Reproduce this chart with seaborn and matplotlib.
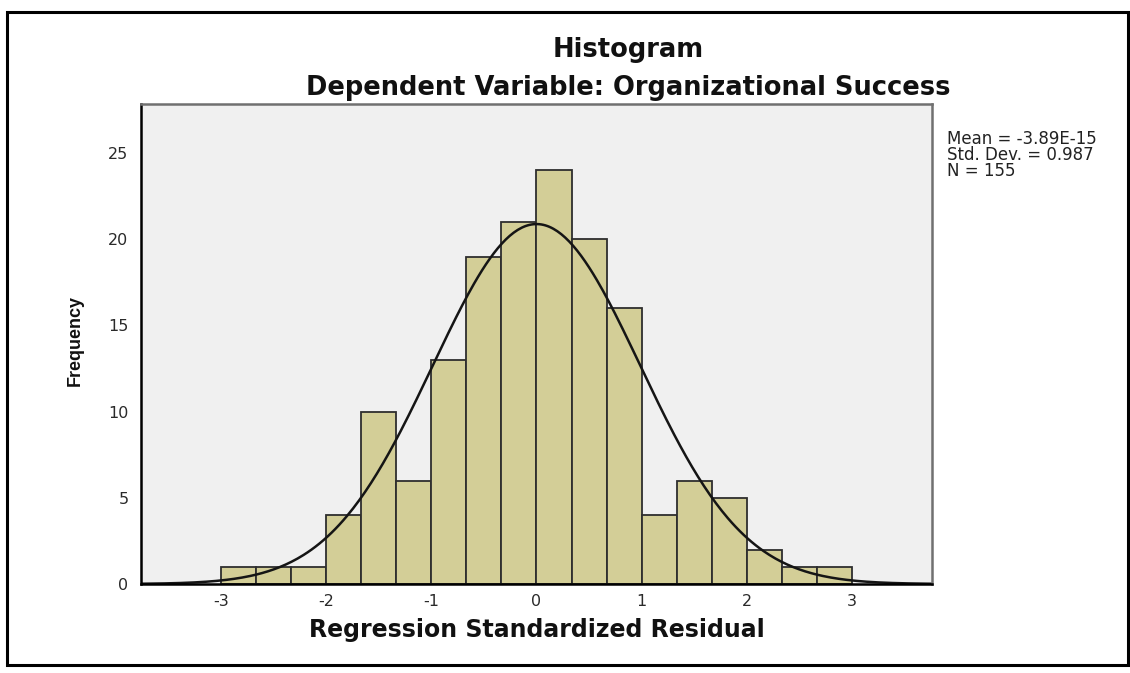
import numpy as np
import pandas as pd
import seaborn as sns
import matplotlib.pyplot as plt
from matplotlib.patches import Rectangle

# bar heights (18 bins of width 1/3 between -3 and 3)
counts = [1, 1, 1, 4, 10, 6, 13, 19, 21, 24, 20, 16, 4, 6, 5, 2, 1, 1]
bin_lo, bin_hi = -3, 3
resid_mean = -3.89e-15
resid_sd = 0.987
n_obs = 155
x_ticks = [-3, -2, -1, 0, 1, 2, 3]
y_ticks = [0, 5, 10, 15, 20, 25]

edges = np.linspace(bin_lo, bin_hi, len(counts) + 1)
centers = (edges[:-1] + edges[1:]) / 2
df = pd.DataFrame({'resid': centers, 'count': counts})

sns.set_style('white')
plt.rcParams['font.family'] = ['DejaVu Sans']
plt.rcParams['axes.unicode_minus'] = False

W, H = 1130, 673
fig = plt.figure(figsize=(W / 100, H / 100), dpi=100)
ax = fig.add_axes([141 / W, 1 - 584 / H, (932 - 141) / W, (584 - 104) / H])
ax.set_facecolor('#f0f0f0')

sns.histplot(data=df, x='resid', weights='count', bins=edges.tolist(), color='#d3ce97',
             alpha=1, edgecolor='#2e2e2e', linewidth=1.3, ax=ax)

# fitted normal curve
bw = edges[1] - edges[0]
xs = np.linspace(-3.76, 3.76, 400)
ys = n_obs * bw / (resid_sd * np.sqrt(2 * np.pi)) * np.exp(-0.5 * ((xs - resid_mean) / resid_sd) ** 2)
sns.lineplot(x=xs, y=ys, color='#151515', linewidth=1.8, ax=ax)

ax.set_xlim(-3.76, 3.76)
ax.set_ylim(0, 27.85)
ax.set_xticks(x_ticks)
ax.set_yticks(y_ticks)
ax.tick_params(direction='out', width=1.3, color='black',
               labelsize=11.5, labelcolor='#2a2a2a')
ax.tick_params(axis='x', length=6, pad=1)
ax.tick_params(axis='y', length=7.5, pad=1.5)
for s in ['left', 'bottom']:
    ax.spines[s].set_color('black')
    ax.spines[s].set_linewidth(1.8)
for s in ['top', 'right']:
    ax.spines[s].set_color('#707070')
    ax.spines[s].set_linewidth(1.8)
ax.set_xlabel('')
ax.set_ylabel('')

fig.text(537 / W, 1 - 630 / H, 'Regression Standardized Residual', ha='center', va='center',
         fontsize=17, fontweight='bold', color='#111111')
fig.text(75 / W, 1 - 340 / H, 'Frequency', ha='center', va='center', rotation=90,
         fontsize=13, fontweight='bold', color='#111111',
         family=['Liberation Sans Narrow', 'Liberation Sans'])
fig.text(628 / W, 1 - 50 / H, 'Histogram', ha='center', va='center',
         fontsize=18.5, fontweight='bold', color='#111111')
fig.text(628 / W, 1 - 88 / H, 'Dependent Variable: Organizational Success', ha='center', va='center',
         fontsize=18.5, fontweight='bold', color='#111111')
fig.text(947 / W, 1 - 130 / H,
         f'Mean = -3.89E-15\nStd. Dev. = {resid_sd}\nN = {n_obs}',
         ha='left', va='top', fontsize=12, color='#222222', linespacing=0.86)

fig.patches.append(Rectangle((7 / W, 1 - 665 / H), (1128 - 7) / W, (665 - 12) / H,
                             transform=fig.transFigure, fill=False, edgecolor='black', linewidth=2.2))

fig.savefig('out.png', dpi=100)
